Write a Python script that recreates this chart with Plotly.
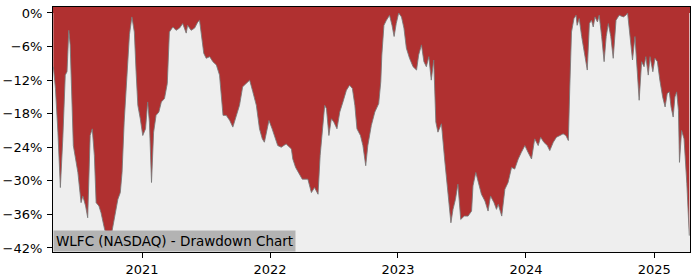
import plotly.graph_objects as go

dates = [
    "2020-04-23", "2020-04-29", "2020-05-06", "2020-05-13", "2020-05-20", "2020-05-27",
    "2020-06-01", "2020-06-06", "2020-06-10", "2020-06-14", "2020-06-19", "2020-07-02",
    "2020-07-11", "2020-07-16", "2020-07-24", "2020-07-30", "2020-08-06", "2020-08-12",
    "2020-08-18", "2020-08-23", "2020-08-31", "2020-09-06", "2020-09-16", "2020-09-25",
    "2020-09-30", "2020-10-05", "2020-10-14", "2020-10-24", "2020-10-31", "2020-11-05",
    "2020-11-11", "2020-11-18", "2020-11-26", "2020-12-03", "2020-12-10", "2020-12-15",
    "2020-12-20", "2020-12-27", "2021-01-03", "2021-01-11", "2021-01-17", "2021-01-22",
    "2021-01-28", "2021-02-03", "2021-02-10", "2021-02-18", "2021-02-25", "2021-03-06",
    "2021-03-14", "2021-03-20", "2021-03-30", "2021-04-08", "2021-04-18", "2021-04-27",
    "2021-05-07", "2021-05-11", "2021-05-21", "2021-05-31", "2021-06-09", "2021-06-14",
    "2021-06-19", "2021-06-26", "2021-07-03", "2021-07-13", "2021-07-22", "2021-08-01",
    "2021-08-10", "2021-08-20", "2021-08-29", "2021-09-08", "2021-09-17", "2021-09-27",
    "2021-10-06", "2021-10-15", "2021-10-25", "2021-11-04", "2021-11-13", "2021-11-23",
    "2021-12-02", "2021-12-07", "2021-12-10", "2021-12-16", "2021-12-29", "2022-01-07",
    "2022-01-14", "2022-01-23", "2022-02-02", "2022-02-16", "2022-03-03", "2022-03-07",
    "2022-03-15", "2022-03-24", "2022-04-03", "2022-04-19", "2022-04-29", "2022-05-08",
    "2022-05-18", "2022-05-24", "2022-05-30", "2022-06-06", "2022-06-11", "2022-06-18",
    "2022-06-25", "2022-07-02", "2022-07-11", "2022-07-19", "2022-07-28", "2022-08-07",
    "2022-08-16", "2022-08-24", "2022-08-31", "2022-09-06", "2022-09-16", "2022-09-23",
    "2022-10-01", "2022-10-07", "2022-10-17", "2022-10-27", "2022-11-07", "2022-11-13",
    "2022-11-16", "2022-11-22", "2022-11-29", "2022-12-08", "2022-12-15", "2022-12-21",
    "2022-12-27", "2023-01-03", "2023-01-11", "2023-01-18", "2023-01-25", "2023-02-03",
    "2023-02-13", "2023-02-23", "2023-03-01", "2023-03-09", "2023-03-16", "2023-03-23",
    "2023-03-30", "2023-04-06", "2023-04-13", "2023-04-19", "2023-04-25", "2023-05-05",
    "2023-05-14", "2023-05-24", "2023-06-01", "2023-06-07", "2023-06-14", "2023-06-21",
    "2023-06-29", "2023-07-09", "2023-07-20", "2023-07-30", "2023-08-03", "2023-08-11",
    "2023-08-18", "2023-08-27", "2023-09-06", "2023-09-15", "2023-09-22", "2023-10-02",
    "2023-10-09", "2023-10-14", "2023-10-24", "2023-11-02", "2023-11-11", "2023-11-21",
    "2023-11-30", "2023-12-10", "2023-12-19", "2023-12-29", "2024-01-07", "2024-01-17",
    "2024-01-26", "2024-02-05", "2024-02-12", "2024-02-21", "2024-03-02", "2024-03-09",
    "2024-03-19", "2024-03-28", "2024-04-07", "2024-04-16", "2024-04-24", "2024-05-01",
    "2024-05-05", "2024-05-10", "2024-05-17", "2024-05-23", "2024-05-26", "2024-06-01",
    "2024-06-08", "2024-06-17", "2024-06-24", "2024-06-30", "2024-07-06", "2024-07-11",
    "2024-07-16", "2024-07-23", "2024-07-28", "2024-08-04", "2024-08-11", "2024-08-17",
    "2024-08-23", "2024-08-30", "2024-09-06", "2024-09-14", "2024-09-23", "2024-10-05",
    "2024-10-12", "2024-10-17", "2024-10-24", "2024-10-31", "2024-11-07", "2024-11-12",
    "2024-11-19", "2024-11-26", "2024-12-03", "2024-12-08", "2024-12-15", "2024-12-20",
    "2024-12-28", "2025-01-03", "2025-01-10", "2025-01-17", "2025-01-25", "2025-02-01",
    "2025-02-07", "2025-02-13", "2025-02-18", "2025-02-24", "2025-03-01", "2025-03-06",
    "2025-03-11", "2025-03-14", "2025-03-20", "2025-03-27", "2025-04-04", "2025-04-11",
]

drawdown_pct = [
    -9.6, -13.5, -21.3, -31.2, -22.4, -11.1,
    -10.5, -3.1, -5.7, -15.3, -23.7, -28.5,
    -33.9, -32.7, -34.5, -36.6, -21.9, -20.7,
    -25.5, -33.9, -34.5, -35.7, -38.6, -40.4,
    -42.3, -39.8, -36.8, -33.3, -32.1, -28.5,
    -19.5, -12.3, -3.9, -0.7, -3.4, -10.5,
    -16.5, -18.9, -21.9, -20.7, -15.9, -19.5,
    -30.3, -21.3, -18.3, -17.7, -15.9, -15.3,
    -12.6, -3.4, -2.5, -3.1, -2.7, -1.9,
    -3.6, -2.2, -3.1, -2.7, -1.6, -1.3,
    -3.4, -7.2, -8.1, -7.8, -8.7, -9.3,
    -11.1, -18.3, -18.3, -19.2, -20.4, -18.3,
    -16.5, -13.2, -12.6, -12.0, -14.1, -16.5,
    -20.7, -21.9, -22.5, -23.1, -19.2, -20.7,
    -21.9, -23.7, -24.0, -23.4, -24.3, -26.1,
    -27.6, -28.5, -29.7, -29.7, -32.1, -31.2,
    -32.4, -25.5, -21.9, -16.5, -17.1, -21.9,
    -18.9, -19.5, -20.7, -17.7, -15.9, -13.8,
    -12.9, -13.5, -16.5, -20.7, -21.9, -23.7,
    -27.3, -23.7, -20.1, -17.7, -16.2, -12.3,
    -7.5, -2.2, -1.3, -0.4, -2.2, -4.2,
    -1.9, 0.0, -0.7, -2.7, -6.3, -8.1,
    -9.6, -10.2, -7.5, -5.7, -8.7, -9.6,
    -7.8, -12.0, -8.4, -19.5, -21.3, -19.8,
    -26.1, -32.1, -37.5, -35.1, -33.3, -30.6,
    -36.9, -36.3, -36.3, -35.4, -30.9, -28.5,
    -30.3, -32.4, -33.6, -35.4, -32.7, -33.9,
    -35.1, -34.2, -36.3, -31.5, -30.3, -27.6,
    -27.9, -26.1, -24.9, -23.7, -24.9, -26.1,
    -22.5, -23.7, -22.2, -23.1, -23.7, -24.6,
    -23.1, -22.2, -21.9, -21.6, -21.9, -22.8,
    -13.5, -3.4, -1.0, -0.4, -2.2, -1.0,
    -4.2, -7.8, -10.2, -1.9, -1.3, -2.5,
    -0.7, -1.6, -0.4, -4.2, -8.7, -4.2,
    -1.9, -4.2, -8.1, -1.3, -0.4, -0.7,
    -0.4, 0.0, -4.8, -8.4, -4.2, -9.6,
    -15.6, -8.7, -9.6, -7.8, -11.1, -7.8,
    -10.5, -8.1, -8.7, -12.0, -15.0, -16.8,
    -14.4, -14.1, -16.8, -18.6, -15.0, -14.1,
    -17.4, -26.7, -21.0, -22.5, -30.5, -39.8,
]

y_tick_vals = [0, -6, -12, -18, -24, -30, -36, -42]
y_tick_text = ["0%", "\u22126%", "\u221212%", "\u221218%", "\u221224%", "\u221230%", "\u221236%", "\u221242%"]
x_tick_vals = ["2021-01-01", "2022-01-01", "2023-01-01", "2024-01-01", "2025-01-01"]
x_tick_text = ["2021", "2022", "2023", "2024", "2025"]
x_range = ["2020-04-22", "2025-04-13"]
y_range = [-42.72, 1.07]
title_text = "WLFC (NASDAQ) - Drawdown Chart"

RED = "#b03030"
BG = "#eeeeee"

fig = go.Figure()
fig.add_trace(go.Scatter(
    x=dates, y=drawdown_pct, mode="lines",
    line=dict(color="rgba(120,120,120,0.85)", width=1),
    fill="tozeroy", fillcolor=RED, hoverinfo="skip", showlegend=False,
))

fig.add_shape(type="rect", xref="paper", x0=0, x1=1, yref="y", y0=0, y1=y_range[1],
              fillcolor=RED, line=dict(width=0), layer="below")

axis_common = dict(
    showline=True, linecolor="black", linewidth=1, mirror=True,
    ticks="outside", ticklen=5, tickwidth=1, tickcolor="black",
    showgrid=False, zeroline=False, automargin=False,
    tickfont=dict(family="DejaVu Sans", size=13, color="black"),
)

fig.update_xaxes(type="date", range=x_range, tickvals=x_tick_vals, ticktext=x_tick_text,
                 **axis_common)
fig.update_yaxes(range=y_range, tickvals=y_tick_vals, ticktext=y_tick_text,
                 ticklabelstandoff=2, **axis_common)

fig.add_annotation(
    text=title_text, xref="paper", yref="paper", x=0, y=0,
    xanchor="left", yanchor="bottom", showarrow=False,
    font=dict(family="DejaVu Sans", size=13.5, color="black"),
    bgcolor="#b3b3b3", borderpad=2,
)

fig.update_layout(
    template="none",
    width=700, height=280,
    margin=dict(l=53, r=10, t=7, b=28),
    paper_bgcolor="white", plot_bgcolor=BG,
    showlegend=False,
)

fig.write_html("out.html", include_plotlyjs=True, full_html=True,
               config={"displayModeBar": False})
